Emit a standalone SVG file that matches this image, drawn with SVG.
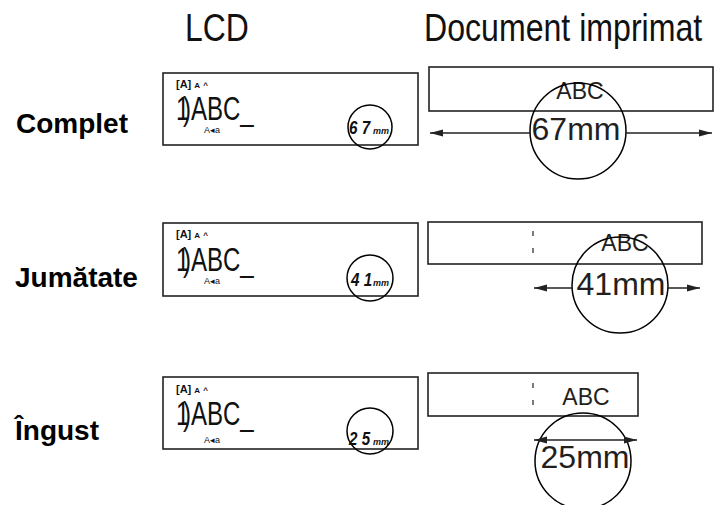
<svg xmlns="http://www.w3.org/2000/svg" width="716" height="505" viewBox="0 0 716 505">
<style>
.hdr{font-family:"Liberation Sans",Arial,sans-serif;font-size:38px;fill:#111}
.lbl{font-family:"Liberation Sans",Arial,sans-serif;font-size:28px;font-weight:bold;fill:#000}
.box{fill:#fff;stroke:#222;stroke-width:1.6}
.tape{fill:#fff;stroke:#222;stroke-width:1.6}
.circ{fill:none;stroke:#000;stroke-width:1.5}
.sm{font-family:"Liberation Sans",Arial,sans-serif;font-size:11px;font-weight:bold;fill:#111}
.big{font-family:"Liberation Sans",Arial,sans-serif;font-size:30px;fill:#111}
.tiny{font-family:"Liberation Sans",Arial,sans-serif;font-size:9px;fill:#111}
.dig{font-family:"Liberation Sans",Arial,sans-serif;font-size:19px;font-weight:bold;font-style:italic;fill:#111}
.mm{font-family:"Liberation Sans",Arial,sans-serif;font-size:9px;font-weight:bold;font-style:italic;fill:#111}
.abc{font-family:"Liberation Sans",Arial,sans-serif;font-size:23px;fill:#231f20}
.len{font-family:"Liberation Sans",Arial,sans-serif;font-size:32px;fill:#231f20}
.arr{stroke:#222;stroke-width:1.5;fill:none}
.tick{stroke:#333;stroke-width:1.3}
</style>
<defs>
<marker id="ah" markerUnits="userSpaceOnUse" markerWidth="14" markerHeight="8" refX="13" refY="3.5" orient="auto-start-reverse" viewBox="0 0 14 7">
<path d="M0,0 L13,3.5 L0,7 z" fill="#222"/>
</marker>
</defs>

<g id="headers">
<text class="hdr" transform="translate(185,41) scale(0.84,1)">LCD</text>
<text class="hdr" transform="translate(424,41) scale(0.845,1)">Document imprimat</text>
</g>

<g id="labels">
<text class="lbl" x="16" y="133">Complet</text>
<text class="lbl" x="15" y="287">Jumătate</text>
<text class="lbl" x="15" y="440">Îngust</text>
</g>

<!-- LCD row 1 -->
<g id="lcd-complet">
<rect class="box" x="163" y="73" width="255" height="72"/>
<text class="sm" x="176" y="88">[A] <tspan font-size="8">A</tspan>  <tspan font-size="8">^</tspan></text>
<text class="big" transform="translate(176,120) scale(0.8,1.08)">1<tspan dx="-8">)</tspan>ABC_</text>
<text class="tiny" x="204" y="133">A◂a</text>
<circle class="circ" cx="370" cy="127" r="22"/>
<text class="dig" transform="translate(349,134) scale(0.8,1)">6 7</text>
<text class="mm" x="373" y="134">mm</text>
</g>

<!-- LCD row 2 -->
<g id="lcd-jumatate">
<rect class="box" x="163" y="223" width="255" height="73"/>
<text class="sm" x="176" y="238">[A] <tspan font-size="8">A</tspan>  <tspan font-size="8">^</tspan></text>
<text class="big" transform="translate(176,271) scale(0.8,1.08)">1<tspan dx="-8">)</tspan>ABC_</text>
<text class="tiny" x="204" y="284">A◂a</text>
<circle class="circ" cx="370" cy="278" r="23"/>
<text class="dig" transform="translate(351,286) scale(0.8,1)">4 1</text>
<text class="mm" x="373" y="286">mm</text>
</g>

<!-- LCD row 3 -->
<g id="lcd-ingust">
<rect class="box" x="163" y="377" width="255" height="72"/>
<text class="sm" x="176" y="393">[A] <tspan font-size="8">A</tspan>  <tspan font-size="8">^</tspan></text>
<text class="big" transform="translate(176,425) scale(0.8,1.08)">1<tspan dx="-8">)</tspan>ABC_</text>
<text class="tiny" x="204" y="443">A◂a</text>
<circle class="circ" cx="370" cy="431" r="23"/>
<text class="dig" transform="translate(349,445) scale(0.8,1)">2 5</text>
<text class="mm" x="373" y="445">mm</text>
</g>

<!-- Tape row 1 -->
<g id="tape-complet">
<rect class="tape" x="429" y="67" width="284" height="44"/>
<text class="abc" x="580" y="99" text-anchor="middle" font-size="22">ABC</text>
<circle class="circ" cx="578" cy="131" r="48"/>
<text class="len" x="576" y="140" text-anchor="middle">67mm</text>
</g>

<!-- Tape row 2 -->
<g id="tape-jumatate">
<rect class="tape" x="428" y="222" width="274" height="42"/>
<line class="tick" x1="533" y1="231" x2="533" y2="236"/>
<line class="tick" x1="533" y1="248" x2="533" y2="253"/>
<text class="abc" x="625" y="251" text-anchor="middle">ABC</text>
<circle class="circ" cx="620" cy="285" r="48"/>
<text class="len" x="621" y="295" text-anchor="middle">41mm</text>
</g>

<!-- Tape row 3 -->
<g id="tape-ingust">
<rect class="tape" x="428" y="373" width="210" height="43"/>
<line class="tick" x1="533" y1="383" x2="533" y2="388"/>
<line class="tick" x1="533" y1="400" x2="533" y2="405"/>
<text class="abc" x="586" y="405" text-anchor="middle">ABC</text>
<circle class="circ" cx="583" cy="461" r="48"/>
<text class="len" x="585" y="468" text-anchor="middle" font-size="31">25mm</text>
</g>

<g id="connectors">
<line class="arr" x1="530" y1="133" x2="430" y2="133" marker-end="url(#ah)"/>
<line class="arr" x1="626" y1="133" x2="712" y2="133" marker-end="url(#ah)"/>
<line class="arr" x1="572" y1="288" x2="534" y2="288" marker-end="url(#ah)"/>
<line class="arr" x1="668" y1="288" x2="700" y2="288" marker-end="url(#ah)"/>
<line class="arr" x1="534" y1="440" x2="637" y2="440" marker-start="url(#ah)" marker-end="url(#ah)"/>
</g>
</svg>
